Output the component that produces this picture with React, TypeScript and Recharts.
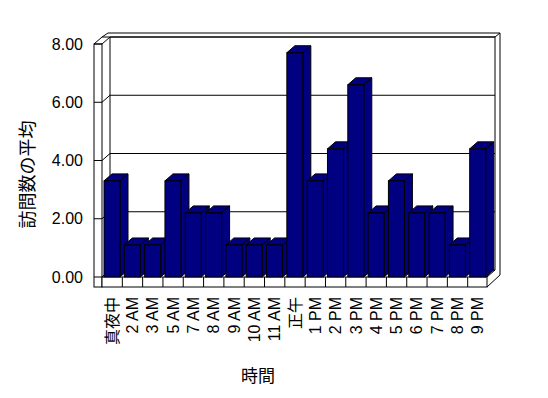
import { BarChart, Bar, XAxis, YAxis, CartesianGrid } from 'recharts';

const categories = [
  '真夜中', '2 AM', '3 AM', '5 AM', '7 AM', '8 AM', '9 AM', '10 AM', '11 AM', '正午',
  '1 PM', '2 PM', '3 PM', '4 PM', '5 PM', '6 PM', '7 PM', '8 PM', '9 PM',
];
const avgVisits = [3.3, 1.1, 1.1, 3.3, 2.2, 2.2, 1.1, 1.1, 1.1, 7.7, 3.3, 4.4, 6.6, 2.2, 3.3, 2.2, 2.2, 1.1, 4.4];
const yTicks = [0, 2, 4, 6, 8];

const data = categories.map((name, i) => ({ name, value: avgVisits[i] }));

const FONT = "'Liberation Sans', 'Noto Sans CJK JP', sans-serif";
const DX = 8;
const DY = -7;
const WALL = 8;

// 3D column: front face, top face, right side face
function Bar3D(props: any) {
  const { x, y, width, height } = props;
  if (height == null || width == null) return null;
  const top = `${x},${y} ${x + DX},${y + DY} ${x + width + DX},${y + DY} ${x + width},${y}`;
  const side = `${x + width},${y} ${x + width + DX},${y + DY} ${x + width + DX},${y + height + DY} ${x + width},${y + height}`;
  return (
    <g stroke="#000" strokeWidth={1} fill="#000080">
      <polygon points={side} />
      <polygon points={top} />
      <rect x={x} y={y} width={width} height={height} />
    </g>
  );
}

// gridline on the back wall, plus the walls and floor drawn once
function GridLine(props: any) {
  const { x1, y1, x2, index } = props;
  const px = props.x ?? x1;
  const py = props.y ?? y1;
  const pw = props.width ?? x2 - x1;
  const ph = props.height ?? 0;
  const bottom = py + ph;
  const right = px + pw;
  const n = categories.length;
  const line = (
    <g stroke="#000" strokeWidth={1} fill="none">
      <line x1={x1 - WALL} y1={y1} x2={x1} y2={y1} />
      <line x1={x1} y1={y1} x2={x1 + DX} y2={y1 + DY} />
      <line x1={x1 + DX} y1={y1 + DY} x2={x2 + DX - 1} y2={y1 + DY} />
    </g>
  );
  if (index !== 0) return line;
  const dividers = [];
  for (let k = 1; k < n; k++) {
    const dx = px + (k * pw) / n;
    dividers.push(<line key={k} x1={dx} y1={bottom} x2={dx} y2={bottom + 10} />);
  }
  return (
    <g>
      <g stroke="#000" strokeWidth={1} fill="none">
        {/* back wall outer frame */}
        <polyline points={`${px},${py + DY} ${px + 6},${py + DY - 4} ${right + DX + 4},${py + DY - 4} ${right + DX + 4},${bottom + DY + 5} ${right - 1},${bottom + 10}`} />
        {/* back wall inner edge */}
        <polyline points={`${px + DX},${bottom + DY} ${px + DX},${py + DY} ${right + DX - 1},${py + DY} ${right + DX - 1},${bottom + DY} ${right - 1},${bottom}`} />
        <line x1={right + DX - 1} y1={py + DY} x2={right + DX + 4} y2={py + DY - 4} />
        {/* left wall */}
        <rect x={px - WALL} y={py} width={WALL} height={ph + 10} fill="#fff" />
        <polyline points={`${px - WALL},${py} ${px},${py + DY} ${px + DX},${py + DY}`} />
        <line x1={px} y1={bottom} x2={px + DX} y2={bottom + DY} />
        {/* floor slab */}
        <rect x={px} y={bottom} width={pw - 1} height={10} fill="#fff" />
        {dividers}
      </g>
      {line}
    </g>
  );
}

function XTick(props: any) {
  const { x, y, payload } = props;
  return (
    <text
      x={x}
      y={y}
      dy="0.35em"
      transform={`rotate(-90, ${x}, ${y})`}
      textAnchor="end"
      fontFamily={FONT}
      fontSize={16}
      fill="#000"
    >
      {payload.value}
    </text>
  );
}

function YTick(props: any) {
  const { y, payload } = props;
  return (
    <text x={75} y={y} dy="0.35em" textAnchor="end" fontFamily={FONT} fontSize={16} fill="#000">
      {payload.value.toFixed(2)}
    </text>
  );
}

export default function App() {
  return (
    <div style={{ width: 540, height: 390, background: '#fff' }}>
      <BarChart
        width={540}
        height={390}
        data={data}
        margin={{ top: 36, right: 60, bottom: 0, left: 0 }}
        barSize={16}
      >
        <CartesianGrid vertical={false} horizontal={(p: any) => <GridLine {...p} />} />
        <XAxis
          dataKey="name"
          interval={0}
          axisLine={false}
          tickLine={false}
          tickSize={6}
          tickMargin={14}
          height={121}
          tick={<XTick />}
          label={{
            content: (p: any) => {
              const vb = p.viewBox;
              return (
                <text
                  x={vb.x + vb.width / 2 - 37}
                  y={vb.y + 99}
                  dominantBaseline="central"
                  textAnchor="middle"
                  fontFamily={FONT}
                  fontSize={17}
                  fill="#000"
                >
                  時間
                </text>
              );
            },
          }}
        />
        <YAxis
          domain={[0, 8]}
          ticks={yTicks}
          width={94}
          axisLine={false}
          tickLine={false}
          tick={<YTick />}
          label={{
            content: (p: any) => {
              const vb = p.viewBox;
              const cx = vb.x + 20;
              const cy = vb.y + vb.height / 2 + 14;
              return (
                <text
                  x={cx}
                  y={cy}
                  transform={`rotate(-90, ${cx}, ${cy})`}
                  dominantBaseline="central"
                  textAnchor="middle"
                  fontFamily={FONT}
                  fontSize={18}
                  fill="#000"
                >
                  訪問数の平均
                </text>
              );
            },
          }}
        />
        <Bar dataKey="value" isAnimationActive={false} shape={(p: any) => <Bar3D {...p} />} />
      </BarChart>
    </div>
  );
}
